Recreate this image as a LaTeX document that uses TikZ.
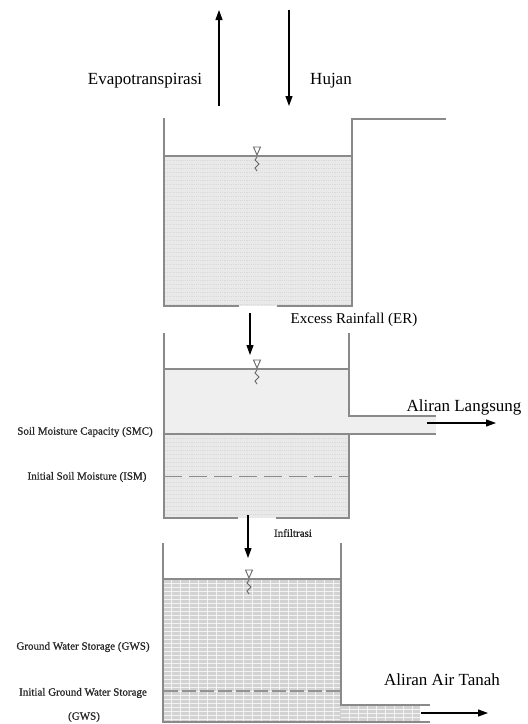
\documentclass[tikz,border=0pt]{standalone}
\usepackage{fontspec}
\setmainfont{Liberation Serif}
\newfontfamily\labelfont[FakeBold=0.9]{Liberation Serif}
\usetikzlibrary{arrows.meta}
\definecolor{wallgray}{HTML}{8A8A8A}
\definecolor{waterA}{HTML}{E9E9E9}
\definecolor{waterB}{HTML}{EFEFEF}
\definecolor{waterC}{HTML}{D2D2D2}
\definecolor{grain}{HTML}{D9D9D9}
\begin{document}
\begin{tikzpicture}[x=1pt,y=-1pt,
  wall/.style={draw=wallgray, line width=1.3pt},
  flow/.style={-{Triangle[length=10pt,width=7pt]}, line width=1.1pt, draw=black},
  biglabel/.style={font=\fontsize{17}{20}\selectfont, inner sep=0pt},
  smalllabel/.style={font=\labelfont\fontsize{11}{13}\selectfont, text=black!85, inner sep=0pt},
  grainline/.style={draw=grain, line width=0.5pt, dash pattern=on 1.2pt off 1pt},
  gridline/.style={draw=white, line width=0.7pt, opacity=0.75},
  surface/.style={draw=wallgray, line width=1.4pt},
  level/.pic={
    \draw[black!60, line width=0.9pt] (-3.5,-9) -- (3.5,-9) -- (0,-1) -- cycle;
    \draw[black!60, line width=0.9pt] (0,1) -- (-2,4) -- (2,8) -- (-2,12) -- (0,15);
  }]
\useasboundingbox (0,0) rectangle (528,724);

% ---------- upper tank ----------
\fill[waterA] (164,156) rectangle (352,306);
\foreach \yy in {160,164,...,304} \draw[grainline] (165,\yy) -- (351,\yy);
\draw[surface] (164,156) -- (352,156);
\draw[wall] (164,118) -- (164,306) -- (239,306);
\draw[wall] (277,306) -- (352,306) -- (352,119) -- (446,119);
\pic at (257,156) {level};

% ---------- soil moisture tank ----------
\fill[waterB] (164,369) rectangle (349,434);
\fill[waterB] (349,416) rectangle (436,434);
\fill[waterA] (164,434) rectangle (349,518);
\foreach \yy in {438,442,...,516} \draw[grainline] (165,\yy) -- (348,\yy);
\draw[surface] (164,369) -- (349,369);
\draw[wall] (164,333) -- (164,518) -- (238,518);
\draw[wall] (276,518) -- (349,518) -- (349,434);
\draw[wall] (349,333) -- (349,416) -- (436,416);
\draw[wall] (164,434) -- (436,434);
\draw[wallgray, line width=0.9pt, dash pattern=on 18pt off 7pt] (164,476) -- (349,476);
\pic at (257,369) {level};

% ---------- ground water tank ----------
\fill[waterC] (163,579) rectangle (341,722);
\fill[waterC] (341,705) rectangle (420,722);
\foreach \yy in {583,587,...,719} \draw[gridline] (164,\yy) -- (340,\yy);
\foreach \yy in {709,713,717} \draw[gridline] (341,\yy) -- (420,\yy);
\foreach \xx in {171,180,...,340} \draw[gridline] (\xx,580) -- (\xx,721);
\foreach \xx in {349,358,...,420} \draw[gridline] (\xx,706) -- (\xx,721);
\draw[surface] (163,579) -- (341,579);
\draw[draw=gray!85, line width=1.6pt, dash pattern=on 14pt off 4pt] (164,691) -- (341,691);
\draw[wall] (163,543) -- (163,722) -- (430,722);
\draw[wall] (341,543) -- (341,705) -- (430,705);
\pic at (249,579) {level};

% ---------- fluxes ----------
\coordinate (evapS) at (219,106);
\coordinate (evapE) at (219,10);
\coordinate (rainS) at (289,10);
\coordinate (rainE) at (289,106);
\coordinate (erS) at (250,313);
\coordinate (erE) at (250,355);
\coordinate (infS) at (248,515);
\coordinate (infE) at (248,558);
\coordinate (dirS) at (427,423);
\coordinate (dirE) at (496,423);
\coordinate (gwS) at (421,713);
\coordinate (gwE) at (488,713);

\draw[flow] (evapS) -- (evapE);
\draw[flow] (rainS) -- (rainE);
\draw[flow] (erS) -- (erE);
\draw[flow] (infS) -- (infE);
\draw[flow] (dirS) -- (dirE);
\draw[flow] (gwS) -- (gwE);

% ---------- labels ----------
\node[biglabel] (tEvap) at (145,81) {Evapotranspirasi};
\node[biglabel] (tRain) at (331,81) {Hujan};
\node[font=\fontsize{15}{18}\selectfont, inner sep=0pt] (tER) at (354,320) {Excess Rainfall (ER)};
\node[biglabel] (tDir) at (464,407) {Aliran Langsung};
\node[smalllabel] (tSMC) at (85,432) {Soil Moisture Capacity (SMC)};
\node[smalllabel] (tISM) at (87,477) {Initial Soil Moisture (ISM)};
\node[smalllabel] (tInf) at (293,533) {Infiltrasi};
\node[smalllabel] (tGWS) at (83,647) {Ground Water Storage (GWS)};
\node[smalllabel] (tIGWS) at (83,693) {Initial Ground Water Storage};
\node[smalllabel] (tIGWS2) at (84,717) {(GWS)};
\node[biglabel] (tGW) at (442,680) {Aliran Air Tanah};
\end{tikzpicture}
\end{document}
